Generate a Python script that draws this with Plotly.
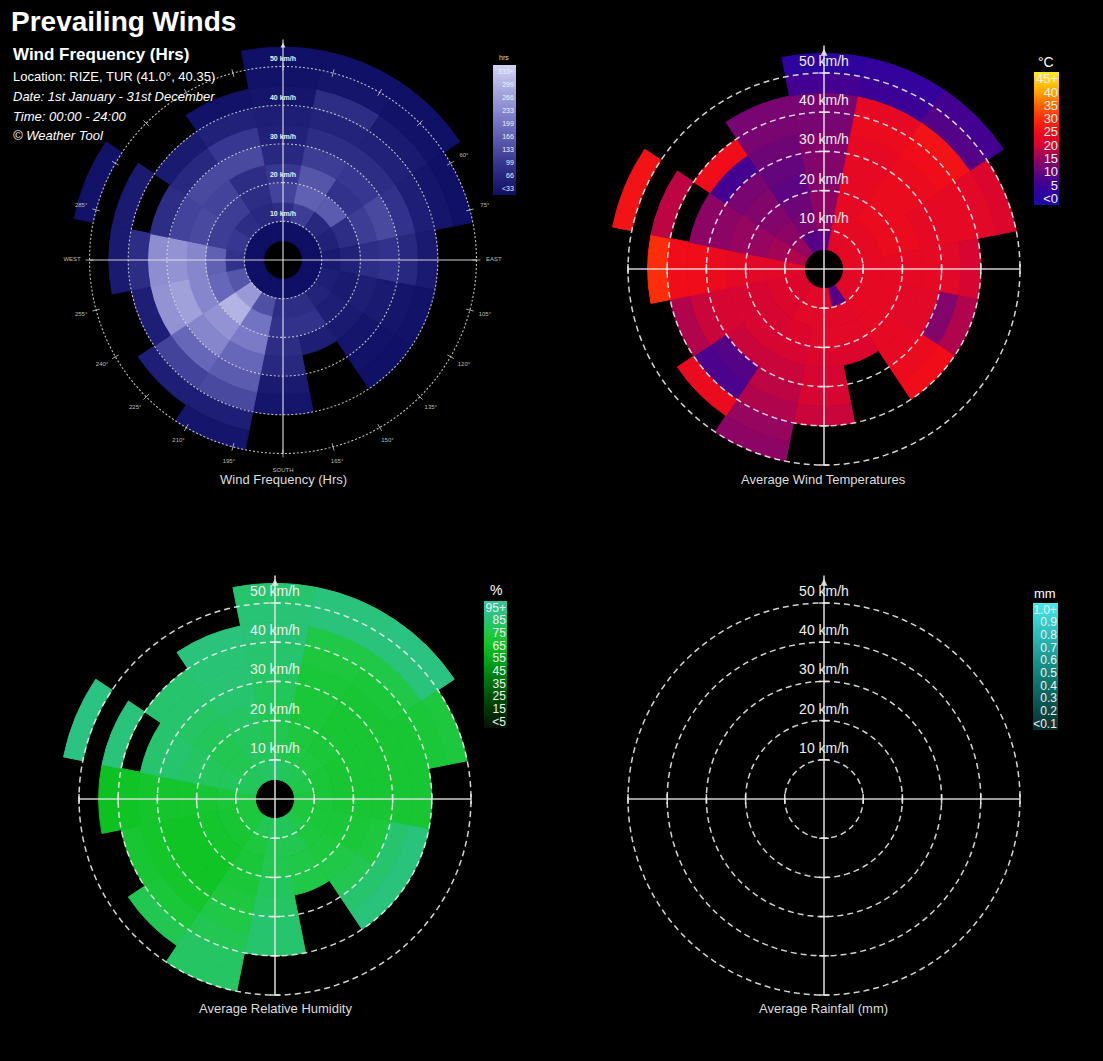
import plotly.graph_objects as go

W, H = 1103, 1061
FONT = "Liberation Sans, Arial, sans-serif"

# ---------------- data ----------------
directions = ["N", "NNE", "NE", "ENE", "E", "ESE", "SE", "SSE",
              "S", "SSW", "SW", "WSW", "W", "WNW", "NW", "NNW"]
speed_bins = [5, 10, 15, 20, 25, 30, 35, 40, 45, 50]   # lower edge (km/h) of each 5 km/h band
BIN_W = 5
ring_kmh = [10, 20, 30, 40, 50]

# hours per cell (rows = directions, columns = speed bands), None = no observations
freq_hrs = [
    [18, 80, 120, 100, 70, 55, 50, 30, 25, 20],
    [18, 110, 170, 150, 110, 80, 60, 80, 30, 20],
    [18, 70, 160, 90, 100, 80, 55, 40, 25, 20],
    [18, 55, 80, 110, 130, 90, 50, 30, 20],
    [18, 40, 55, 80, 90, 70, 40],
    [18, 50, 40, 50, 40, 30, 25],
    [18, 60, 50, 40, 30, 25, 20],
    [18, 80, 90, 50],
    [18, 80, 90, 80, 70, 40, 30],
    [18, 140, 200, 210, 180, 160, 130, 50, 30],
    [18, 260, 300, 250, 230, 180, 120, 50],
    [18, 150, 180, 230, 270, 250, 50],
    [18, 90, 170, 230, 250, 240, 80, 40],
    [18, 100, 110, 130, 120, 80, None, 40, None, 25],
    [18, 80, 110, 120, 130, 70, 40],
    [18, 70, 80, 80, 130, 100, 55, 25],
]

temp_c = [
    [9, 14, 14, 13, 13, 13, 12, 12, 6, 2],
    [22, 23, 23, 23, 23, 23, 24, 23, 5, 3],
    [23, 23, 24, 24, 24, 24, 25, 26, 8, 6],
    [23, 23, 24, 24, 23, 23, 23, 22, 21],
    [23, 23, 23, 23, 23, 22, 20],
    [22, 23, 23, 22, 22, 13, 17],
    [22, 23, 23, 23, 23, 24, 25],
    [8, 22, 22, 21],
    [22, 22, 22, 21, 20, 20, 19],
    [22, 22, 21, 20, 19, 18, 17, 15, 14],
    [21, 21, 20, 20, 19, 8, 7, 24],
    [21, 21, 20, 20, 20, 19, 17],
    [22, 22, 22, 23, 24, 25, 25, 30],
    [17, 16, 15, 15, 14, 14, None, 18, None, 26],
    [15, 14, 13, 13, 12, 6, 25],
    [8, 12, 11, 9, 10, 11, 12, 12],
]

humidity_pct = [
    [84, 80, 78, 78, 80, 82, 84, 85, 86, 84],
    [80, 76, 74, 72, 72, 72, 74, 76, 88, 88],
    [78, 74, 72, 70, 70, 70, 72, 76, 88, 90],
    [76, 72, 70, 70, 70, 70, 70, 72, 74],
    [74, 72, 70, 70, 70, 70, 70],
    [74, 72, 72, 72, 74, 84, 88],
    [76, 74, 74, 76, 78, 84, 88],
    [80, 78, 76, 76],
    [80, 78, 78, 80, 82, 84, 84],
    [78, 74, 72, 72, 74, 76, 78, 82, 82],
    [74, 70, 68, 66, 66, 68, 72, 78],
    [74, 70, 68, 66, 66, 68, 70],
    [74, 72, 70, 68, 68, 68, 66, 64],
    [80, 80, 80, 82, 84, 84, None, 88, None, 90],
    [80, 78, 78, 80, 82, 84, 84],
    [82, 80, 80, 82, 84, 85, 86, 88],
]

rain_mm = [[] for _ in directions]   # no rainfall recorded

freq_ticks = [33, 66, 99, 133, 166, 199, 233, 266, 299, 333]
freq_ticktext = ["<33", "66", "99", "133", "166", "199", "233", "266", "299", "333+"]
temp_ticks = [0, 5, 10, 15, 20, 25, 30, 35, 40, 45]
temp_ticktext = ["<0", "5", "10", "15", "20", "25", "30", "35", "40", "45+"]
hum_ticks = [5, 15, 25, 35, 45, 55, 65, 75, 85, 95]
hum_ticktext = ["<5", "15", "25", "35", "45", "55", "65", "75", "85", "95+"]
rain_ticks = [0.1, 0.2, 0.3, 0.4, 0.5, 0.6, 0.7, 0.8, 0.9, 1.0]
rain_ticktext = ["<0.1", "0.2", "0.3", "0.4", "0.5", "0.6", "0.7", "0.8", "0.9", "1.0+"]

freq_scale = [[0, "rgb(14,14,100)"], [0.25, "rgb(55,55,145)"], [0.55, "rgb(115,115,195)"], [1, "rgb(210,210,245)"]]
temp_scale = [[0, "rgb(25,10,170)"], [0.15, "rgb(60,0,150)"], [0.25, "rgb(100,5,125)"], [0.35, "rgb(150,5,95)"],
              [0.45, "rgb(215,5,50)"], [0.55, "rgb(240,12,25)"], [0.65, "rgb(252,45,10)"], [0.75, "rgb(255,100,0)"],
              [0.85, "rgb(255,165,0)"], [1, "rgb(255,235,40)"]]
hum_scale = [[0, "rgb(0,20,0)"], [0.25, "rgb(0,80,10)"], [0.45, "rgb(0,140,20)"], [0.55, "rgb(0,170,25)"],
             [0.65, "rgb(15,195,35)"], [0.75, "rgb(30,200,65)"], [0.85, "rgb(40,195,115)"], [1, "rgb(50,195,160)"]]
rain_scale = [[0, "rgb(8,45,45)"], [0.5, "rgb(20,140,130)"], [1, "rgb(70,235,235)"]]

# ---------------- geometry ----------------
R_MAX = 58
SECTOR = 360 / len(directions)
subplots = {
    "polar":  dict(cx=283, cy=260, k=3.87),
    "polar2": dict(cx=824, cy=269, k=3.92),
    "polar3": dict(cx=275, cy=799, k=3.92),
    "polar4": dict(cx=824, cy=799, k=3.92),
}

fig = go.Figure()


def cells(grid):
    th, base, rr, val = [], [], [], []
    for i, row in enumerate(grid):
        for j, v in enumerate(row):
            if v is None:
                continue
            th.append(i * SECTOR)
            base.append(speed_bins[j])
            rr.append(BIN_W)
            val.append(v)
    return th, base, rr, val


def add_rose(grid, sp, scale, cmin, cmax, ticks, ticktext, cb_x, cb_top, cb_len, cb_thick, tick_size):
    th, base, rr, val = cells(grid)
    marker = dict(color=val if val else [cmin], colorscale=scale, cmin=cmin, cmax=cmax,
                  line=dict(width=1.0, color=val if val else [cmin], colorscale=scale, cmin=cmin, cmax=cmax),
                  showscale=True,
                  colorbar=dict(x=cb_x / W, xanchor="left", y=1 - cb_top / H, yanchor="top",
                                lenmode="pixels", len=cb_len, thickness=cb_thick, xpad=0, ypad=0,
                                outlinewidth=0, ticks="", tickvals=ticks, ticktext=ticktext,
                                ticklabelposition="inside", ticklabeloverflow="allow",
                                tickfont=dict(color="#f2f2f2", size=tick_size, family=FONT)))
    if val:
        fig.add_trace(go.Barpolar(r=rr, base=base, theta=th, width=[SECTOR] * len(th),
                                  marker=marker, subplot=sp, hoverinfo="skip", showlegend=False))
    else:
        fig.add_trace(go.Scatterpolar(r=[None], theta=[None], mode="markers", marker=marker,
                                      subplot=sp, hoverinfo="skip", showlegend=False))


def add_frame(sp, small=False):
    # dashed speed rings
    rr, tt = [], []
    for ring in ring_kmh:
        for a in range(0, 361, 2):
            rr.append(ring)
            tt.append(a)
        rr.append(None)
        tt.append(None)
    fig.add_trace(go.Scatterpolar(
        r=rr, theta=tt, mode="lines", subplot=sp, hoverinfo="skip", showlegend=False,
        line=dict(color="rgba(225,225,210,0.85)" if small else "rgba(235,235,235,0.9)",
                  width=1.1 if small else 1.5, dash="2px,2px" if small else "6px,4px")))
    # cross hair
    top = ring_kmh[-1] + 7
    fig.add_trace(go.Scatterpolar(
        r=[ring_kmh[-1], ring_kmh[-1], None, ring_kmh[-1], top],
        theta=[270, 90, None, 180, 0], mode="lines", subplot=sp, hoverinfo="skip", showlegend=False,
        line=dict(color="rgba(230,230,230,0.9)", width=1.2 if small else 1.6)))
    fig.add_trace(go.Scatterpolar(
        r=[top - 0.8], theta=[0], mode="markers", subplot=sp, hoverinfo="skip", showlegend=False,
        marker=dict(symbol="arrow-up", size=5 if small else 7, color="rgba(230,230,230,0.9)")))
    if not small:
        fig.add_trace(go.Scatterpolar(
            r=ring_kmh * 2, theta=[90] * 5 + [270] * 5, mode="markers", subplot=sp,
            hoverinfo="skip", showlegend=False,
            marker=dict(symbol="line-ns", size=7, line=dict(color="rgba(235,235,235,0.9)", width=1.5))))
        fig.add_trace(go.Scatterpolar(
            r=ring_kmh * 2, theta=[0] * 5 + [180] * 5, mode="markers", subplot=sp,
            hoverinfo="skip", showlegend=False,
            marker=dict(symbol="line-ew", size=7, line=dict(color="rgba(235,235,235,0.9)", width=1.5))))
    # ring labels
    fig.add_trace(go.Scatterpolar(
        r=[v + (1.8 if small else 2.7) for v in ring_kmh], theta=[0] * len(ring_kmh),
        text=[f"<b>{v} km/h</b>" if small else f"{v} km/h" for v in ring_kmh],
        mode="text", subplot=sp, hoverinfo="skip", showlegend=False,
        textfont=dict(color="#f0f0f0", size=7 if small else 14, family=FONT)))


# degree labels of the frequency rose (those visible in the original)
compass_deg = [d for d in range(60, 300, 15) if d % 90 != 0]
compass_names = {90: "EAST", 180: "SOUTH", 270: "WEST"}

fig.add_trace(go.Scatterpolar(
    r=[ring_kmh[-1] + 4] * len(compass_deg), theta=compass_deg,
    text=[f"{d}°" for d in compass_deg], mode="text", subplot="polar",
    hoverinfo="skip", showlegend=False, textfont=dict(color="#bdbdb0", size=6, family=FONT)))
fig.add_trace(go.Scatterpolar(
    r=[ring_kmh[-1] + 4.5] * 3, theta=list(compass_names.keys()),
    text=list(compass_names.values()), mode="text", subplot="polar",
    hoverinfo="skip", showlegend=False, textfont=dict(color="#bdbdb0", size=6, family=FONT)))

add_rose(freq_hrs, "polar", freq_scale, 16.5, 349.5, freq_ticks, freq_ticktext, 493, 65, 130, 23, 7)
tick_r, tick_t = [], []
for d in range(0, 360, 15):
    tick_r += [ring_kmh[-1] - 1, ring_kmh[-1] + 1, None]
    tick_t += [d, d, None]
fig.add_trace(go.Scatterpolar(r=tick_r, theta=tick_t, mode="lines", subplot="polar", hoverinfo="skip",
                              showlegend=False, line=dict(color="rgba(210,210,190,0.8)", width=1)))
add_frame("polar", small=True)

add_rose(temp_c, "polar2", temp_scale, -2.5, 47.5, temp_ticks, temp_ticktext, 1034, 72, 133, 25, 13)
add_frame("polar2")
add_rose(humidity_pct, "polar3", hum_scale, 0, 100, hum_ticks, hum_ticktext, 484, 601, 127, 23, 12)
add_frame("polar3")
add_rose(rain_mm, "polar4", rain_scale, 0.05, 1.05, rain_ticks, rain_ticktext, 1033, 603, 127, 25, 12)
add_frame("polar4")

layout = dict(width=W, height=H, margin=dict(l=0, r=0, t=0, b=0),
              paper_bgcolor="black", plot_bgcolor="black", showlegend=False,
              font=dict(family=FONT, color="white"))
for name, g in subplots.items():
    R = R_MAX * g["k"]
    layout[name] = dict(
        domain=dict(x=[(g["cx"] - R) / W, (g["cx"] + R) / W],
                    y=[1 - (g["cy"] + R) / H, 1 - (g["cy"] - R) / H]),
        bgcolor="rgba(0,0,0,0)", bargap=0, barmode="overlay",
        radialaxis=dict(range=[0, R_MAX], showgrid=False, showline=False, showticklabels=False, ticks=""),
        angularaxis=dict(rotation=90, direction="clockwise", showgrid=False, showline=False,
                         showticklabels=False, ticks=""))
fig.update_layout(**layout)


def note(text, x, y, size, anchor="left", color="white"):
    fig.add_annotation(text=text, x=x / W, y=1 - y / H, xref="paper", yref="paper",
                       xanchor=anchor, yanchor="middle", showarrow=False,
                       font=dict(size=size, color=color, family=FONT))


note("<b>Prevailing Winds</b>", 9, 22, 28)
note("<b>Wind Frequency (Hrs)</b>", 11, 55, 17)
note("Location: RIZE, TUR (41.0°, 40.35)", 11, 76, 13)
note("<i>Date: 1st January - 31st December</i>", 11, 96, 13)
note("<i>Time: 00:00 - 24:00</i>", 11, 116, 13)
note("<i>© Weather Tool</i>", 11, 135, 13)

note("Wind Frequency (Hrs)", 283, 480, 13, "center", "#dddddd")
note("Average Wind Temperatures", 823, 480, 13, "center", "#dddddd")
note("Average Relative Humidity", 275, 1008, 13, "center", "#dddddd")
note("Average Rainfall (mm)", 823, 1008, 13, "center", "#dddddd")

note("hrs", 504, 58, 7, "center", "#dddddd")
note("°C", 1046, 62, 14, "center")
note("%", 496, 590, 14, "center")
note("mm", 1045, 593, 13, "center")

fig.write_html("out.html")
